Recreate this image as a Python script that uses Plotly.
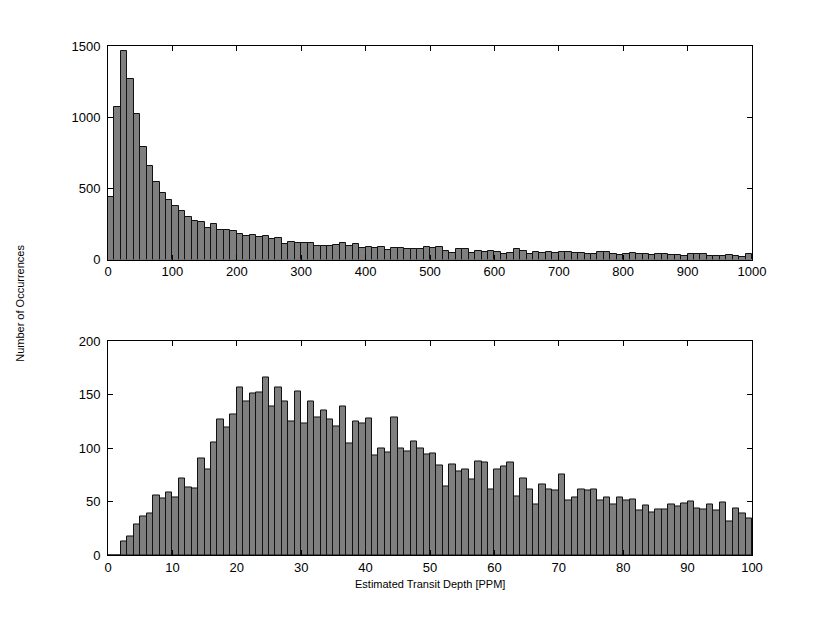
import plotly.graph_objects as go
from plotly.subplots import make_subplots

# Top histogram: 10-PPM bins from 0 to 1000
top_bin_width = 10
top_bin_starts = list(range(0, 1000, 10))
top_counts = [437, 1070, 1465, 1265, 1023, 792, 659, 548, 466, 417,
              378, 339, 297, 271, 262, 224, 248, 207, 205, 201,
              177, 165, 172, 158, 162, 143, 148, 108, 120, 118,
              113, 114, 95, 94, 94, 101, 113, 96, 106, 78,
              85, 78, 87, 66, 78, 78, 73, 71, 71, 89,
              82, 85, 59, 49, 73, 71, 49, 63, 54, 63,
              56, 42, 47, 73, 62, 38, 56, 49, 52, 47,
              54, 56, 47, 45, 38, 38, 52, 52, 38, 31,
              40, 45, 40, 38, 33, 40, 38, 31, 35, 28,
              42, 38, 40, 24, 28, 28, 33, 24, 19, 38]

# Bottom histogram: 1-PPM bins from 0 to 100
bot_bin_width = 1
bot_bin_starts = list(range(0, 100, 1))
bot_counts = [0, 0, 13, 17, 29, 36, 39, 56, 53, 59,
              54, 72, 63, 62, 90, 80, 105, 127, 119, 132,
              157, 144, 151, 152, 166, 139, 157, 144, 125, 153,
              123, 144, 129, 135, 127, 120, 139, 104, 125, 123,
              128, 93, 100, 96, 129, 100, 97, 106, 100, 94,
              95, 84, 64, 85, 78, 80, 71, 88, 87, 61,
              80, 83, 87, 55, 72, 61, 47, 66, 61, 60,
              75, 51, 54, 61, 60, 61, 51, 54, 47, 54,
              51, 52, 42, 46, 40, 43, 43, 47, 45, 48,
              50, 44, 43, 47, 42, 49, 31, 44, 39, 34]

top_xticks = [0, 100, 200, 300, 400, 500, 600, 700, 800, 900, 1000]
top_yticks = [0, 500, 1000, 1500]
bot_xticks = [0, 10, 20, 30, 40, 50, 60, 70, 80, 90, 100]
bot_yticks = [0, 50, 100, 150, 200]

FILL = "#7f7f7f"
EDGE = "#111111"
FONT = "Liberation Sans, Arial, sans-serif"

fig = make_subplots(rows=2, cols=1, vertical_spacing=0.161)

fig.add_trace(go.Bar(
    x=[s + top_bin_width / 2 for s in top_bin_starts], y=top_counts,
    width=top_bin_width, marker=dict(color=FILL, line=dict(color=EDGE, width=1)),
    showlegend=False, hoverinfo="x+y"), row=1, col=1)

fig.add_trace(go.Bar(
    x=[s + bot_bin_width / 2 for s in bot_bin_starts], y=bot_counts,
    width=bot_bin_width, marker=dict(color=FILL, line=dict(color=EDGE, width=1)),
    showlegend=False, hoverinfo="x+y"), row=2, col=1)

axis_common = dict(showline=True, linecolor="black", linewidth=1, mirror="ticks",
                   ticks="inside", ticklen=5, tickcolor="black", showgrid=False,
                   zeroline=False, tickfont=dict(family=FONT, size=13, color="black"))

fig.update_xaxes(range=[0, 1000], tickvals=top_xticks, row=1, col=1, **axis_common)
fig.update_yaxes(range=[0, 1500], tickvals=top_yticks, row=1, col=1,
                 ticklabelstandoff=4, **axis_common)
fig.update_xaxes(range=[0, 100], tickvals=bot_xticks, row=2, col=1, **axis_common)
fig.update_yaxes(range=[0, 200], tickvals=bot_yticks, row=2, col=1,
                 ticklabelstandoff=4, **axis_common)

fig.update_layout(
    width=830, height=624,
    margin=dict(l=100, r=86, t=38, b=77),
    paper_bgcolor="white", plot_bgcolor="white",
    bargap=0,
    font=dict(family=FONT, size=13, color="black"),
    annotations=[
        dict(text="Number of Occurrences", xref="paper", yref="paper",
             x=-0.137, y=0.495, textangle=-90, showarrow=False,
             font=dict(family=FONT, size=11, color="black"),
             xanchor="center", yanchor="middle"),
        dict(text="Estimated Transit Depth [PPM]", xref="paper", yref="paper",
             x=0.5, y=-0.057, showarrow=False,
             font=dict(family=FONT, size=11, color="black"),
             xanchor="center", yanchor="middle"),
    ],
)

fig.write_html("out.html")
